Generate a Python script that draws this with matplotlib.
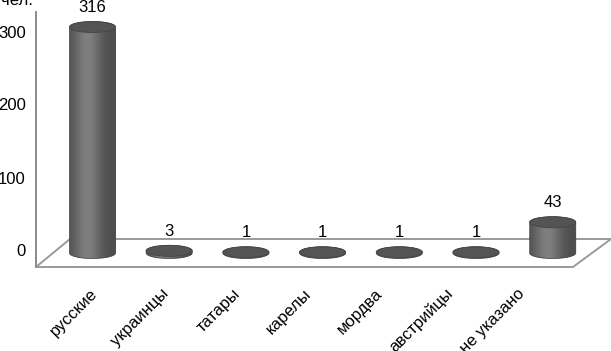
import numpy as np
import matplotlib
matplotlib.use('Agg')
import matplotlib.pyplot as plt
from matplotlib.patches import Polygon, Ellipse, PathPatch
from matplotlib.path import Path

# ---- data ----
categories = ['русские', 'украинцы', 'татары', 'карелы', 'мордва', 'австрийцы', 'не указано']
values = [316, 3, 1, 1, 1, 1, 43]
y_ticks = [0, 100, 200, 300]
unit_label = 'чел.'

plt.rcParams['font.family'] = ['Liberation Sans', 'DejaVu Sans']

W, H = 611, 351
fig = plt.figure(figsize=(W / 100, H / 100), dpi=100)

# pixel geometry of the plot
x0_px, dx_px = 92.5, 76.7      # centre of first cylinder, spacing
y0_px, dy_px = 253.0, 0.715    # base line, pixels per unit

ax = fig.add_axes([0, 0, 1, 1])
ax.set_xlim(-x0_px / dx_px, (W - x0_px) / dx_px)
ax.set_ylim((y0_px - H) / dy_px, y0_px / dy_px)
ax.axis('off')


def px(xp, yp):
    return ((xp - x0_px) / dx_px, (y0_px - yp) / dy_px)


# floor
floor = Polygon([px(36, 267), px(70, 239), px(611, 239), px(573, 267)],
                closed=True, facecolor='white', edgecolor='#9a9a9a', lw=1.4, zorder=1)
ax.add_patch(floor)

a = 23.0 / dx_px     # half width (data)
b = 5.5 / dy_px      # half ellipse height (data)

u = np.linspace(0, 1, 200)
lum = 0.30 + 0.20 * np.exp(-((u - 0.38) / 0.30) ** 2)
grad = np.tile(lum, (2, 1))

for i, v in enumerate(values):
    c = i
    t1 = np.linspace(np.pi, 2 * np.pi, 60)
    t2 = np.linspace(0, np.pi, 60)
    xs = np.concatenate([c + a * np.cos(t1), c + a * np.cos(t2)])
    ys = np.concatenate([b * np.sin(t1), v + b * np.sin(t2)])
    verts = np.column_stack([xs, ys])
    verts = np.vstack([verts, verts[:1]])
    codes = [Path.MOVETO] + [Path.LINETO] * (len(verts) - 2) + [Path.CLOSEPOLY]
    sil = PathPatch(Path(verts, codes), facecolor='none', edgecolor='#404040', lw=0.6, zorder=3)
    ax.add_patch(sil)
    im = ax.imshow(grad, extent=[c - a, c + a, -b, v + b], cmap='gray', vmin=0, vmax=1,
                   aspect='auto', interpolation='bilinear', zorder=2)
    im.set_clip_path(sil)
    top = Ellipse((c, v), 2 * a, 2 * b, facecolor='#545454', edgecolor='#454545', lw=0.6, zorder=4)
    ax.add_patch(top)
    ax.annotate(str(v), (c, v), xytext=(0, 19.5), textcoords='offset pixels',
                ha='center', va='center', fontsize=12, zorder=5)

# category labels
for i, name in enumerate(categories):
    lx, ly = px(95 + 71.2 * i, 291)
    ax.text(lx, ly, name, rotation=45, rotation_mode='anchor', ha='right', va='center',
            fontsize=12)

ax.set_xlim(-x0_px / dx_px, (W - x0_px) / dx_px)
ax.set_ylim((y0_px - H) / dy_px, y0_px / dy_px)

# value axis
t0_px, tdy = 250.5, 0.73
ax2 = fig.add_axes([36 / W, (H - 267) / H, 0.0001, (267 - 12) / H])
ax2.set_ylim((t0_px - 267) / tdy, (t0_px - 12) / tdy)
ax2.set_yticks(y_ticks)
ax2.tick_params(axis='y', length=0, pad=7.5, labelsize=12)
ax2.set_xticks([])
for s in ['top', 'right', 'bottom']:
    ax2.spines[s].set_visible(False)
ax2.spines['left'].set_color('#8a8a8a')
ax2.spines['left'].set_linewidth(1.4)
ax2.patch.set_visible(False)

fig.text(1 / W, 1 - 5 / H, unit_label, ha='left', va='baseline', fontsize=12)

fig.savefig('out.png', dpi=100)
